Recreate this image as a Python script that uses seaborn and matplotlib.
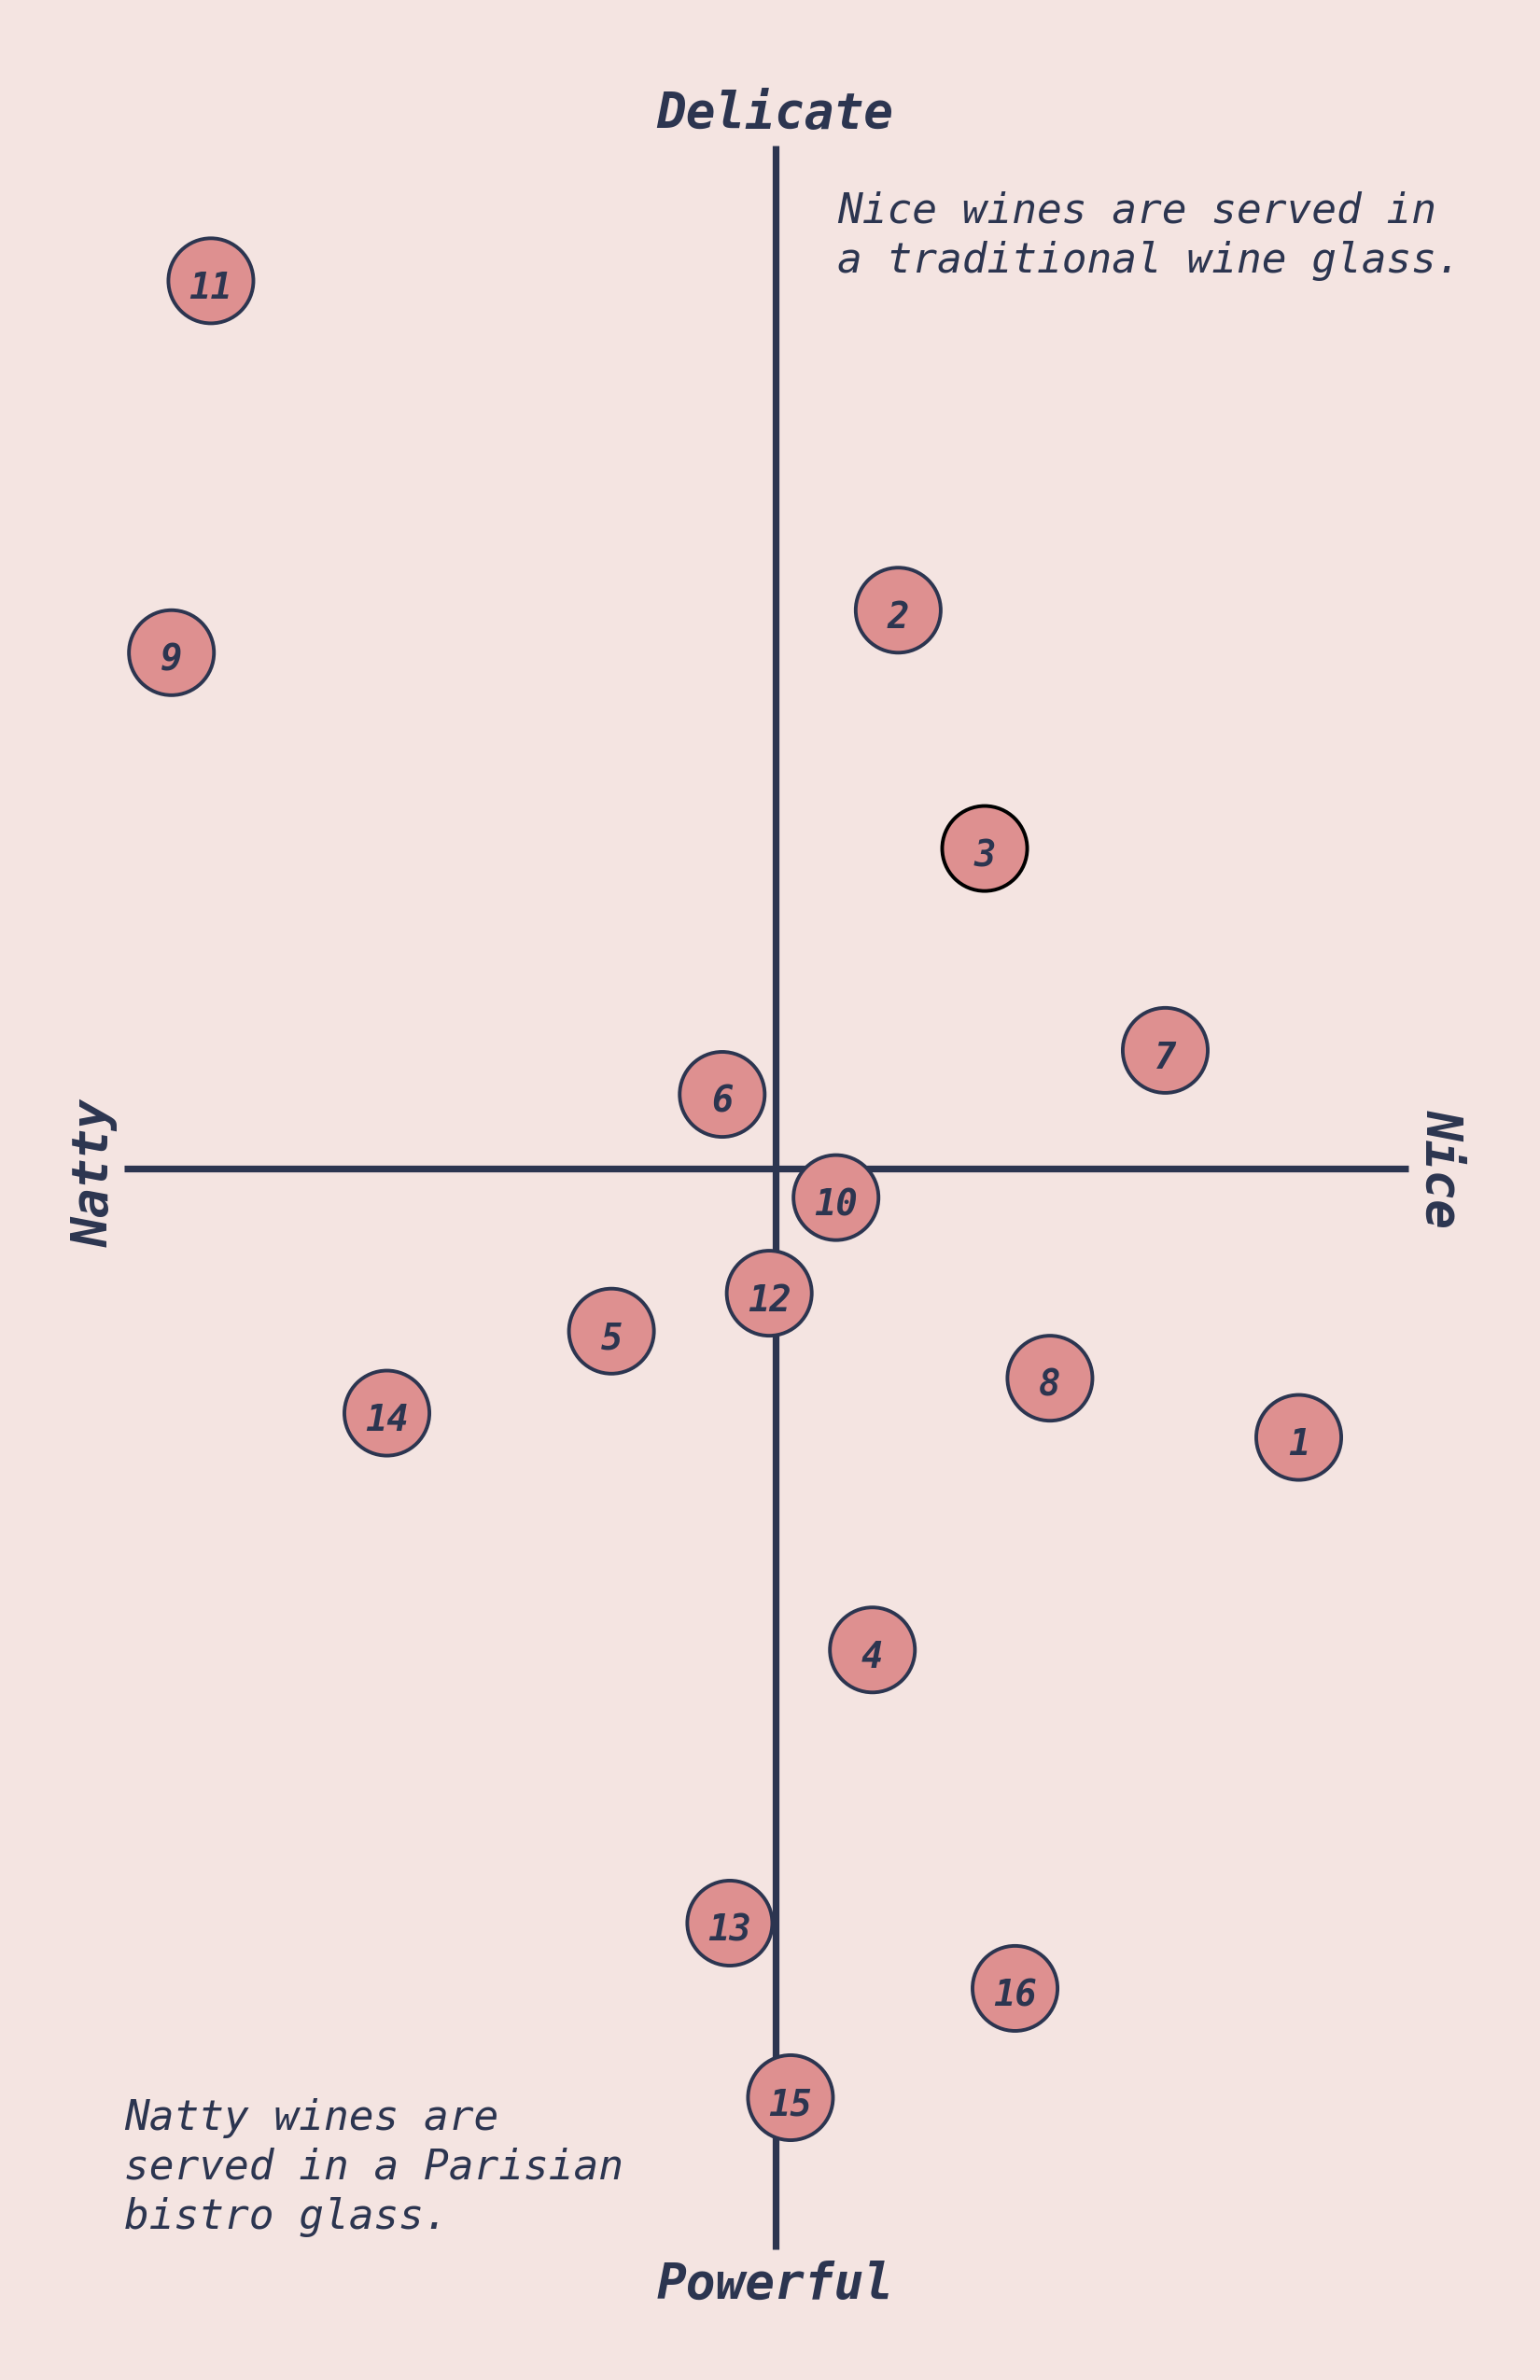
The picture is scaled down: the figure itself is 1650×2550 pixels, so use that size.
import matplotlib
matplotlib.use("Agg")
import matplotlib.pyplot as plt
import seaborn as sns
import pandas as pd

# ---- data (x: Natty(-) .. Nice(+), y: Powerful(-) .. Delicate(+)) ----
wine_ids = ["1", "2", "3", "4", "5", "6", "7", "8", "9", "10", "11", "12", "13", "14", "15", "16"]
nice_score = [3.45, 0.81, 1.38, 0.64, -1.08, -0.35, 2.57, 1.81, -3.98, 0.40, -3.72, -0.04, -0.30, -2.56, 0.10, 1.58]
delicate_score = [-1.77, 3.68, 2.11, -3.17, -1.07, 0.49, 0.78, -1.38, 3.40, -0.19, 5.85, -0.82, -4.97, -1.61, -6.12, -5.40]
highlighted = ["3"]

axis_top, axis_bottom, axis_left, axis_right = "Delicate", "Powerful", "Natty", "Nice"
note_nice = "Nice wines are served in\na traditional wine glass."
note_natty = "Natty wines are\nserved in a Parisian\nbistro glass."

BG = "#f4e4e1"
NAVY = "#2c3550"
FILL = "#de9090"

df = pd.DataFrame({"id": wine_ids, "x": nice_score, "y": delicate_score})
df["edge"] = [("#000000" if i in highlighted else NAVY) for i in wine_ids]

sns.set_theme(style="white")
plt.rcParams["font.family"] = ["DejaVu Sans Mono", "DejaVu Sans"]

fig = plt.figure(figsize=(16.5, 25.5), dpi=100, facecolor=BG)
ax = fig.add_axes([0, 0, 1, 1])
ax.set_facecolor(BG)
ax.set_xlim(-5.11, 5.04)
ax.set_ylim(-7.98, 7.70)
ax.set_axis_off()

# quadrant axes
ax.vlines(0, -7.12, 6.74, color=NAVY, lw=5.2, zorder=1)
ax.hlines(0, -4.29, 4.17, color=NAVY, lw=5.2, zorder=1)

sns.scatterplot(data=df, x="x", y="y", ax=ax, s=4300, color=FILL,
                edgecolor=df["edge"].tolist(), linewidth=2.8, zorder=3, legend=False)

for _, r in df.iterrows():
    ax.annotate(r["id"], (r["x"], r["y"]), xytext=(0, -6), textcoords="offset points",
                ha="center", va="center", fontsize=28, fontweight="bold", fontstyle="italic",
                color=NAVY, zorder=4)

lab = dict(fontsize=38, fontweight="bold", fontstyle="italic", color=NAVY)
ax.text(0, 6.95, axis_top, ha="center", va="center", **lab)
ax.text(0, -7.35, axis_bottom, ha="center", va="center", **lab)
ax.text(-4.49, -0.03, axis_left, ha="center", va="center", rotation=90, **lab)
ax.text(4.39, 0.0, axis_right, ha="center", va="center", rotation=270, **lab)

note = dict(fontsize=32, fontstyle="italic", color=NAVY, linespacing=1.3)
ax.text(0.41, 6.145, note_nice, ha="left", va="center", **note)
ax.text(-4.29, -6.58, note_natty, ha="left", va="center", **note)

fig.savefig("out.png", dpi=100, facecolor=BG)
